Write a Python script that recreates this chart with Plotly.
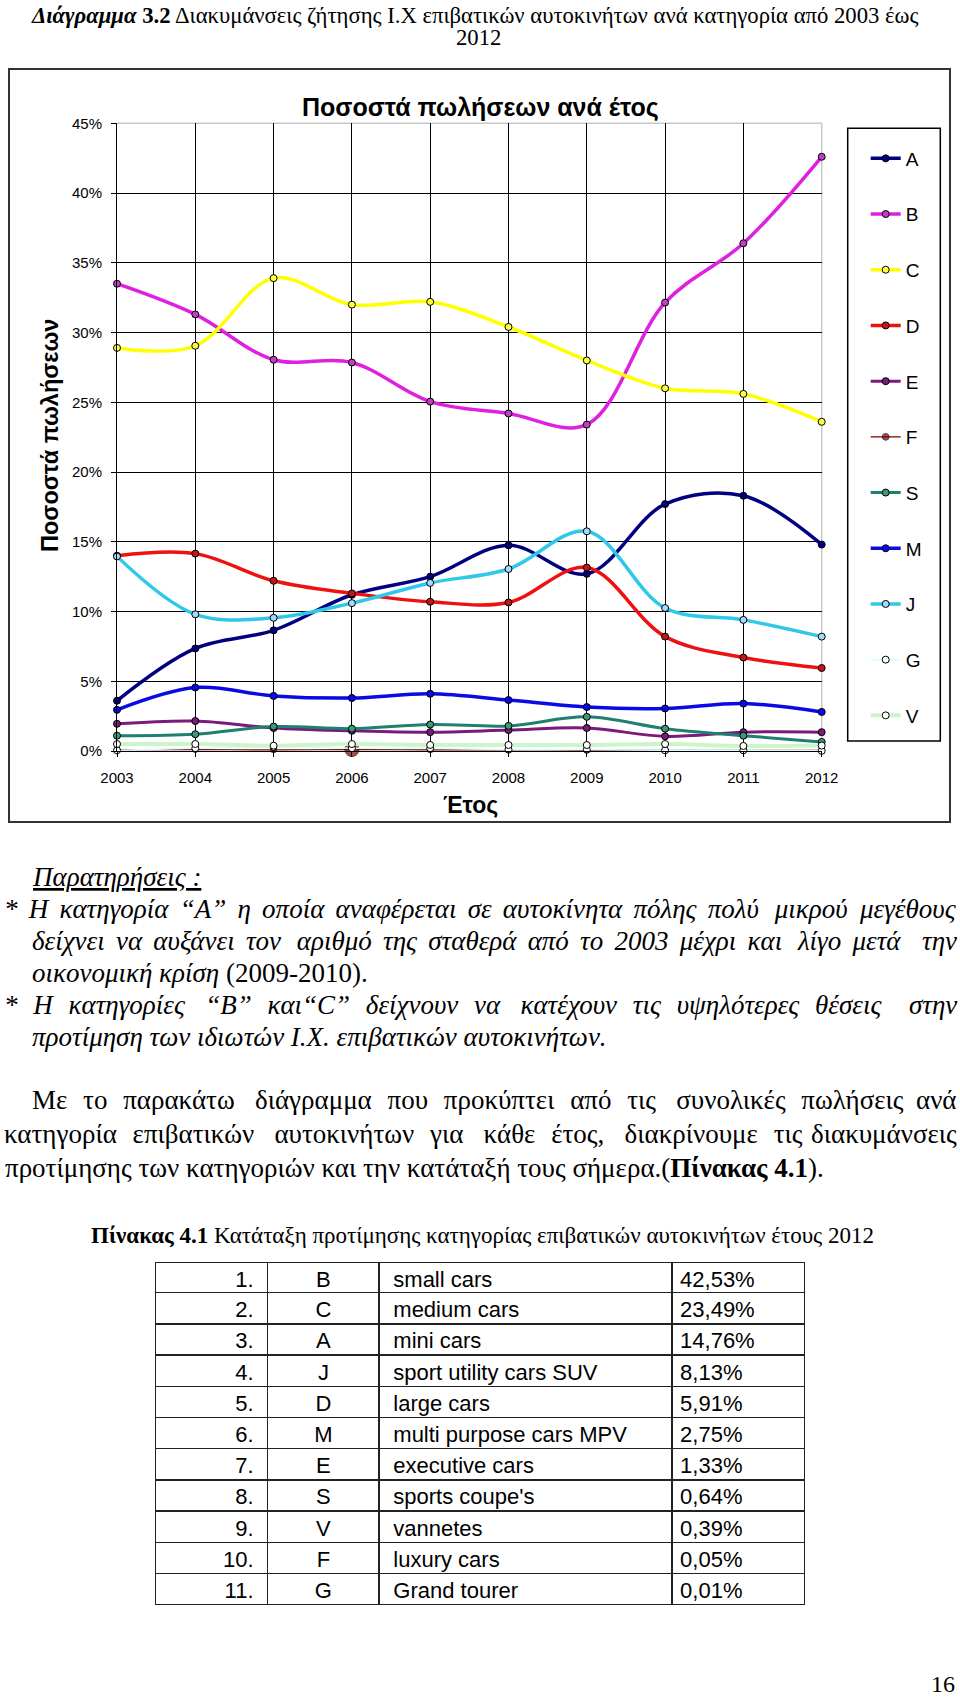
import plotly.graph_objects as go

W, H = 960, 1700

years = [2003, 2004, 2005, 2006, 2007, 2008, 2009, 2010, 2011, 2012]
A = [3.6, 7.35, 8.65, 11.2, 12.5, 14.75, 12.7, 17.7, 18.3, 14.8]
B = [33.5, 31.3, 28.05, 27.85, 25.05, 24.2, 23.4, 32.15, 36.4, 42.6]
C = [28.9, 29.05, 33.9, 32.0, 32.2, 30.4, 28.0, 26.0, 25.6, 23.6]
D = [14.0, 14.15, 12.2, 11.3, 10.7, 10.65, 13.15, 8.2, 6.7, 5.95]
E = [1.95, 2.15, 1.65, 1.45, 1.35, 1.5, 1.65, 1.05, 1.35, 1.35]
F = [0.1, 0.1, 0.08, 0.1, 0.08, 0.07, 0.06, 0.05, 0.05, 0.05]
S = [1.1, 1.2, 1.75, 1.6, 1.9, 1.8, 2.45, 1.6, 1.1, 0.65]
M = [2.95, 4.55, 3.95, 3.8, 4.1, 3.65, 3.15, 3.05, 3.4, 2.8]
J = [13.95, 9.8, 9.55, 10.6, 12.05, 13.05, 15.75, 10.25, 9.4, 8.2]
G = [0.05, 0.2, 0.3, 0.2, 0.2, 0.1, 0.1, 0.05, 0.05, 0.01]
V = [0.5, 0.5, 0.38, 0.5, 0.43, 0.43, 0.43, 0.5, 0.36, 0.39]

ranks = ["1.", "2.", "3.", "4.", "5.", "6.", "7.", "8.", "9.", "10.", "11."]
codes = ["B", "C", "A", "J", "D", "M", "E", "S", "V", "F", "G"]
names = ["small cars", "medium cars", "mini cars", "sport utility cars SUV", "large cars",
         "multi purpose cars MPV", "executive cars", "sports coupe's", "vannetes",
         "luxury cars", "Grand tourer"]
shares = ["42,53%", "23,49%", "14,76%", "8,13%", "5,91%", "2,75%", "1,33%", "0,64%",
          "0,39%", "0,05%", "0,01%"]

series = [
    ("A", A, "#000080", 3.5, "#000080", 7),
    ("B", B, "#E020E0", 3.5, "#C040C0", 7),
    ("C", C, "#FFFF00", 3.5, "#FFFF40", 7),
    ("D", D, "#EE1111", 3.5, "#C01818", 7),
    ("E", E, "#7A1A7A", 3.0, "#7A1A7A", 7),
    ("F", F, "#800000", 1.2, "#800000", [6, 6, 6, 14, 6, 6, 6, 6, 6, 6]),
    ("S", S, "#1F7F70", 3.0, "#3A9A78", 7),
    ("M", M, "#0A0AE6", 3.5, "#0A0AE6", 7),
    ("J", J, "#30C8E8", 3.5, "#A8D8FF", 7),
    ("G", G, "#D8FFFF", 1.5, "#FFFFFF", 7),
    ("V", V, "#CCF5CC", 4.0, "#FFFFFF", 7),
]

fig = go.Figure()
for name, vals, lc, lw, mc, ms in series:
    fig.add_trace(go.Scatter(
        x=years, y=vals, name=name, mode="lines+markers", legendgroup=name,
        line=dict(color=lc, width=lw, shape="spline", smoothing=1),
        marker=dict(symbol="circle", size=ms, color=mc, line=dict(color="#000000", width=1)),
        cliponaxis=False,
    ))


def px(x):
    return x / W


def py(y):
    return 1 - y / H


tfont = dict(family="Liberation Sans, Arial", size=22, color="black")
fig.add_trace(go.Table(
    domain=dict(x=[px(155.7), px(805)], y=[py(1607.5), py(1262.7)]),
    columnwidth=[112, 111.6, 293, 132.7],
    header=dict(
        values=[ranks[0] + "\u00a0", codes[0], "\u00a0" + names[0], shares[0]],
        align=["right", "center", "left", "left"], font=tfont,
        fill_color="white", line=dict(color="#222222", width=1.5), height=30,
    ),
    cells=dict(
        values=[[r + "\u00a0" for r in ranks[1:]], codes[1:],
                ["\u00a0" + n for n in names[1:]], shares[1:]],
        align=["right", "center", "left", "left"], font=tfont,
        fill_color="white", line=dict(color="#222222", width=1.5), height=31.2,
    ),
))

serif = "Liberation Serif, Times New Roman, serif"
sans = "Liberation Sans, Arial, sans-serif"
ann = []


def text(t, x, y, size=23, family=serif, anchor="left"):
    ann.append(dict(text=t, x=px(x), y=py(y), xref="paper", yref="paper",
                    xanchor=anchor, yanchor="middle", showarrow=False,
                    font=dict(family=family, size=size, color="black")))


def spaces(k):
    s = ""
    while k >= 6:
        s += "\u2003"
        k -= 6
    if k >= 3:
        s += "\u2002"
        k -= 3
    if k >= 2:
        s += "\u2004"
        k -= 2
    if k >= 1:
        s += "\u2006"
    return s


BODY = 27
RIGHT = 956.0


def justified(line, natural, left, y, italic):
    """Body line spread over the column: the last word is pinned to the right edge."""
    words = line.split(" ")
    extra = max(0.0, (RIGHT - left) - natural) / (len(words) - 1)
    unit = BODY / 6.0
    out, acc = words[0], 0.0
    for i, w in enumerate(words[1:-1]):
        want = extra * (i + 1) - acc
        k = max(0, int(round(want / unit)))
        acc += k * unit
        out += " " + spaces(k) + w
    last = words[-1]
    if italic:
        out, last = "<i>" + out + "</i>", "<i>" + last + "</i>"
    text(out, left - 3, y, size=BODY)
    text(last, RIGHT + 3, y, size=BODY, anchor="right")


text("<b><i>Διάγραμμα</i> 3.2</b> Διακυμάνσεις ζήτησης Ι.Χ επιβατικών αυτοκινήτων ανά κατηγορία από 2003 έως",
     475, 16, size=22.7, anchor="center")
text("2012", 478, 38, size=22.7, anchor="center")

text("<b>Ποσοστά πωλήσεων ανά έτος</b>", 480, 108, size=25, family=sans, anchor="center")
text("<b>Έτος</b>", 470, 805, size=23, family=sans, anchor="center")
ann.append(dict(text="<b>Ποσοστά πωλήσεων</b>", x=px(50), y=py(436), xref="paper", yref="paper",
                xanchor="center", yanchor="middle", showarrow=False, textangle=-90,
                font=dict(family=sans, size=23.5, color="black")))

text("<i><u>Παρατηρήσεις :</u></i>", 29.5, 877, size=BODY)
justified("* Η κατηγορία “Α” η οποία αναφέρεται σε αυτοκίνητα πόλης πολύ μικρού μεγέθους",
          894, 5.4, 909, True)
justified("δείχνει να αυξάνει τον αριθμό της σταθερά από το 2003 μέχρι και λίγο μετά την",
          852, 32.5, 941, True)
text("<i>οικονομική κρίση</i> (2009-2010).", 29.5, 973, size=BODY)
justified("* Η κατηγορίες “Β” και“C” δείχνουν να κατέχουν τις υψηλότερες θέσεις στην",
          840, 5.4, 1005, True)
text("<i>προτίμηση των ιδιωτών Ι.Χ. επιβατικών αυτοκινήτων.</i>", 29.5, 1037, size=BODY)
justified("Με το παρακάτω διάγραμμα που προκύπτει από τις συνολικές πωλήσεις ανά",
          825, 32.5, 1100, False)
justified("κατηγορία επιβατικών αυτοκινήτων για κάθε έτος, διακρίνουμε τις διακυμάνσεις",
          862, 5.4, 1134, False)
text("προτίμησης των κατηγοριών και την κατάταξή τους σήμερα.(<b>Πίνακας 4.1</b>).", 2.5, 1168, size=BODY)
text("<b>Πίνακας 4.1</b> Κατάταξη προτίμησης κατηγορίας επιβατικών αυτοκινήτων έτους 2012",
     482, 1235.5, anchor="center")
text("16", 943, 1684, size=24, anchor="center")

shapes = [
    dict(type="rect", xref="paper", yref="paper", x0=px(9), x1=px(950), y0=py(822), y1=py(69),
         line=dict(color="#333333", width=2)),
    dict(type="rect", xref="paper", yref="paper", x0=px(847.7), x1=px(940.3), y0=py(741), y1=py(128.3),
         line=dict(color="#000000", width=1.5)),
    dict(type="line", xref="x domain", yref="y domain", x0=0, x1=1, y0=1, y1=1,
         line=dict(color="#C8C8C8", width=1.5), layer="below"),
    dict(type="line", xref="x domain", yref="y domain", x0=1, x1=1, y0=0, y1=1,
         line=dict(color="#C8C8C8", width=1.5), layer="below"),
]

fig.update_layout(
    width=W, height=H, autosize=False,
    margin=dict(l=0, r=0, t=0, b=0, pad=0, autoexpand=False),
    paper_bgcolor="white", plot_bgcolor="white",
    annotations=ann, shapes=shapes,
    showlegend=True,
    legend=dict(x=px(865.7), y=py(139.5), xanchor="left", yanchor="top",
                bgcolor="rgba(0,0,0,0)", borderwidth=0, tracegroupgap=28,
                font=dict(family=sans, size=19, color="black")),
    xaxis=dict(domain=[px(117), px(821.7)], range=[2003, 2012], tickmode="array", tickvals=years,
               automargin=False,
               showgrid=True, gridcolor="#000000", gridwidth=1, zeroline=False,
               showline=True, linecolor="#000000", linewidth=1,
               ticks="outside", ticklen=5, tickcolor="#000000", ticklabelstandoff=8,
               tickfont=dict(family=sans, size=15, color="black")),
    yaxis=dict(domain=[py(751), py(123.3)], range=[0, 45], dtick=5, ticksuffix="%",
               automargin=False,
               showgrid=True, gridcolor="#000000", gridwidth=1, zeroline=False,
               showline=True, linecolor="#000000", linewidth=1,
               ticks="outside", ticklen=5, tickcolor="#000000", ticklabelstandoff=6,
               tickfont=dict(family=sans, size=15, color="black")),
)

fig.write_html("out.html", config={"displayModeBar": False},
               post_script="document.body.style.margin='0px';")
